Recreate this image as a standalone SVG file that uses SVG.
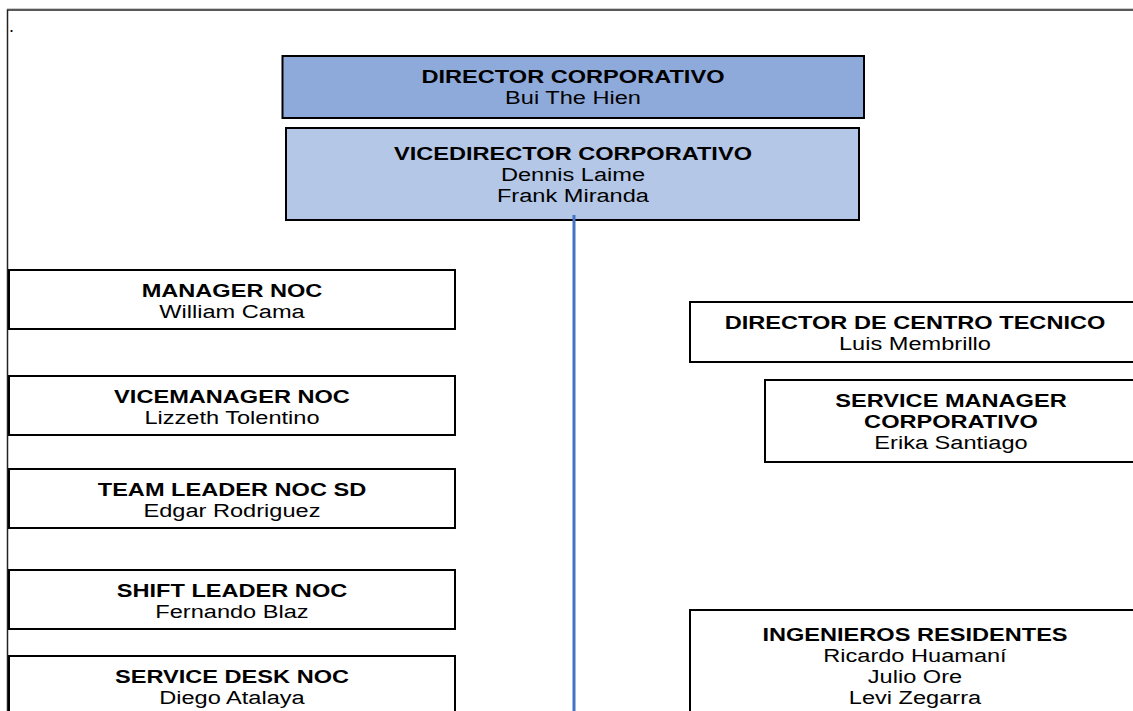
<svg xmlns="http://www.w3.org/2000/svg" width="1133" height="711" viewBox="0 0 1133 711">
<style>
  .box { fill: #ffffff; stroke: #000000; stroke-width: 2; }
  .b1 { fill: #8eaadb; }
  .b2 { fill: #b4c7e7; }
  text { font-family: "Liberation Sans", Arial, sans-serif; font-size: 18px; fill: #000000; text-anchor: middle; }
  .w { transform-box: fill-box; transform-origin: center; transform: scaleX(1.31); }
  .h { font-weight: bold; }
  .frame { stroke: #222222; stroke-width: 1.5; fill: none; }
  .conn { stroke: #4472c4; stroke-width: 3; fill: none; }
</style>
<rect x="0" y="0" width="1133" height="711" fill="#ffffff"/>
<path class="frame" d="M7.5 711 V10 H1133"/>
<line x1="7" y1="8.5" x2="1133" y2="8.5" stroke="#cccccc" stroke-width="1"/>
<text x="9" y="32" style="text-anchor:start">.</text>

<g id="director">
  <rect class="box b1" x="282.5" y="56" width="581.5" height="62"/>
  <text class="w h" x="573" y="83">DIRECTOR CORPORATIVO</text>
  <text class="w" x="573" y="104">Bui The Hien</text>
</g>
<g id="vicedirector">
  <rect class="box b2" x="286" y="128" width="573" height="92"/>
  <text class="w h" x="573" y="160">VICEDIRECTOR CORPORATIVO</text>
  <text class="w" x="573" y="181">Dennis Laime</text>
  <text class="w" x="573" y="202">Frank Miranda</text>
</g>

<g id="connectors">
  <line class="conn" x1="574" y1="215" x2="574" y2="711"/>
</g>

<g id="manager-noc">
  <rect class="box" x="9" y="270" width="446" height="59"/>
  <text class="w h" x="232" y="297">MANAGER NOC</text>
  <text class="w" x="232" y="318">William Cama</text>
</g>
<g id="vicemanager-noc">
  <rect class="box" x="9" y="376" width="446" height="59"/>
  <text class="w h" x="232" y="403">VICEMANAGER NOC</text>
  <text class="w" x="232" y="424">Lizzeth Tolentino</text>
</g>
<g id="team-leader">
  <rect class="box" x="9" y="469" width="446" height="59"/>
  <text class="w h" x="232" y="496">TEAM LEADER NOC SD</text>
  <text class="w" x="232" y="517">Edgar Rodriguez</text>
</g>
<g id="shift-leader">
  <rect class="box" x="9" y="570" width="446" height="59"/>
  <text class="w h" x="232" y="597">SHIFT LEADER NOC</text>
  <text class="w" x="232" y="618">Fernando Blaz</text>
</g>
<g id="service-desk">
  <rect class="box" x="9" y="656" width="446" height="70"/>
  <text class="w h" x="232" y="683">SERVICE DESK NOC</text>
  <text class="w" x="232" y="704">Diego Atalaya</text>
</g>

<g id="director-centro">
  <rect class="box" x="690" y="302" width="452" height="60"/>
  <text class="w h" x="915" y="329">DIRECTOR DE CENTRO TECNICO</text>
  <text class="w" x="915" y="350">Luis Membrillo</text>
</g>
<g id="service-manager">
  <rect class="box" x="765" y="380" width="375" height="82"/>
  <text class="w h" x="951" y="407">SERVICE MANAGER</text>
  <text class="w h" x="951" y="428">CORPORATIVO</text>
  <text class="w" x="951" y="449">Erika Santiago</text>
</g>
<g id="ingenieros">
  <rect class="box" x="690" y="610" width="452" height="120"/>
  <text class="w h" x="915" y="641">INGENIEROS RESIDENTES</text>
  <text class="w" x="915" y="662">Ricardo Huamaní</text>
  <text class="w" x="915" y="683">Julio Ore</text>
  <text class="w" x="915" y="704">Levi Zegarra</text>
</g>
</svg>
